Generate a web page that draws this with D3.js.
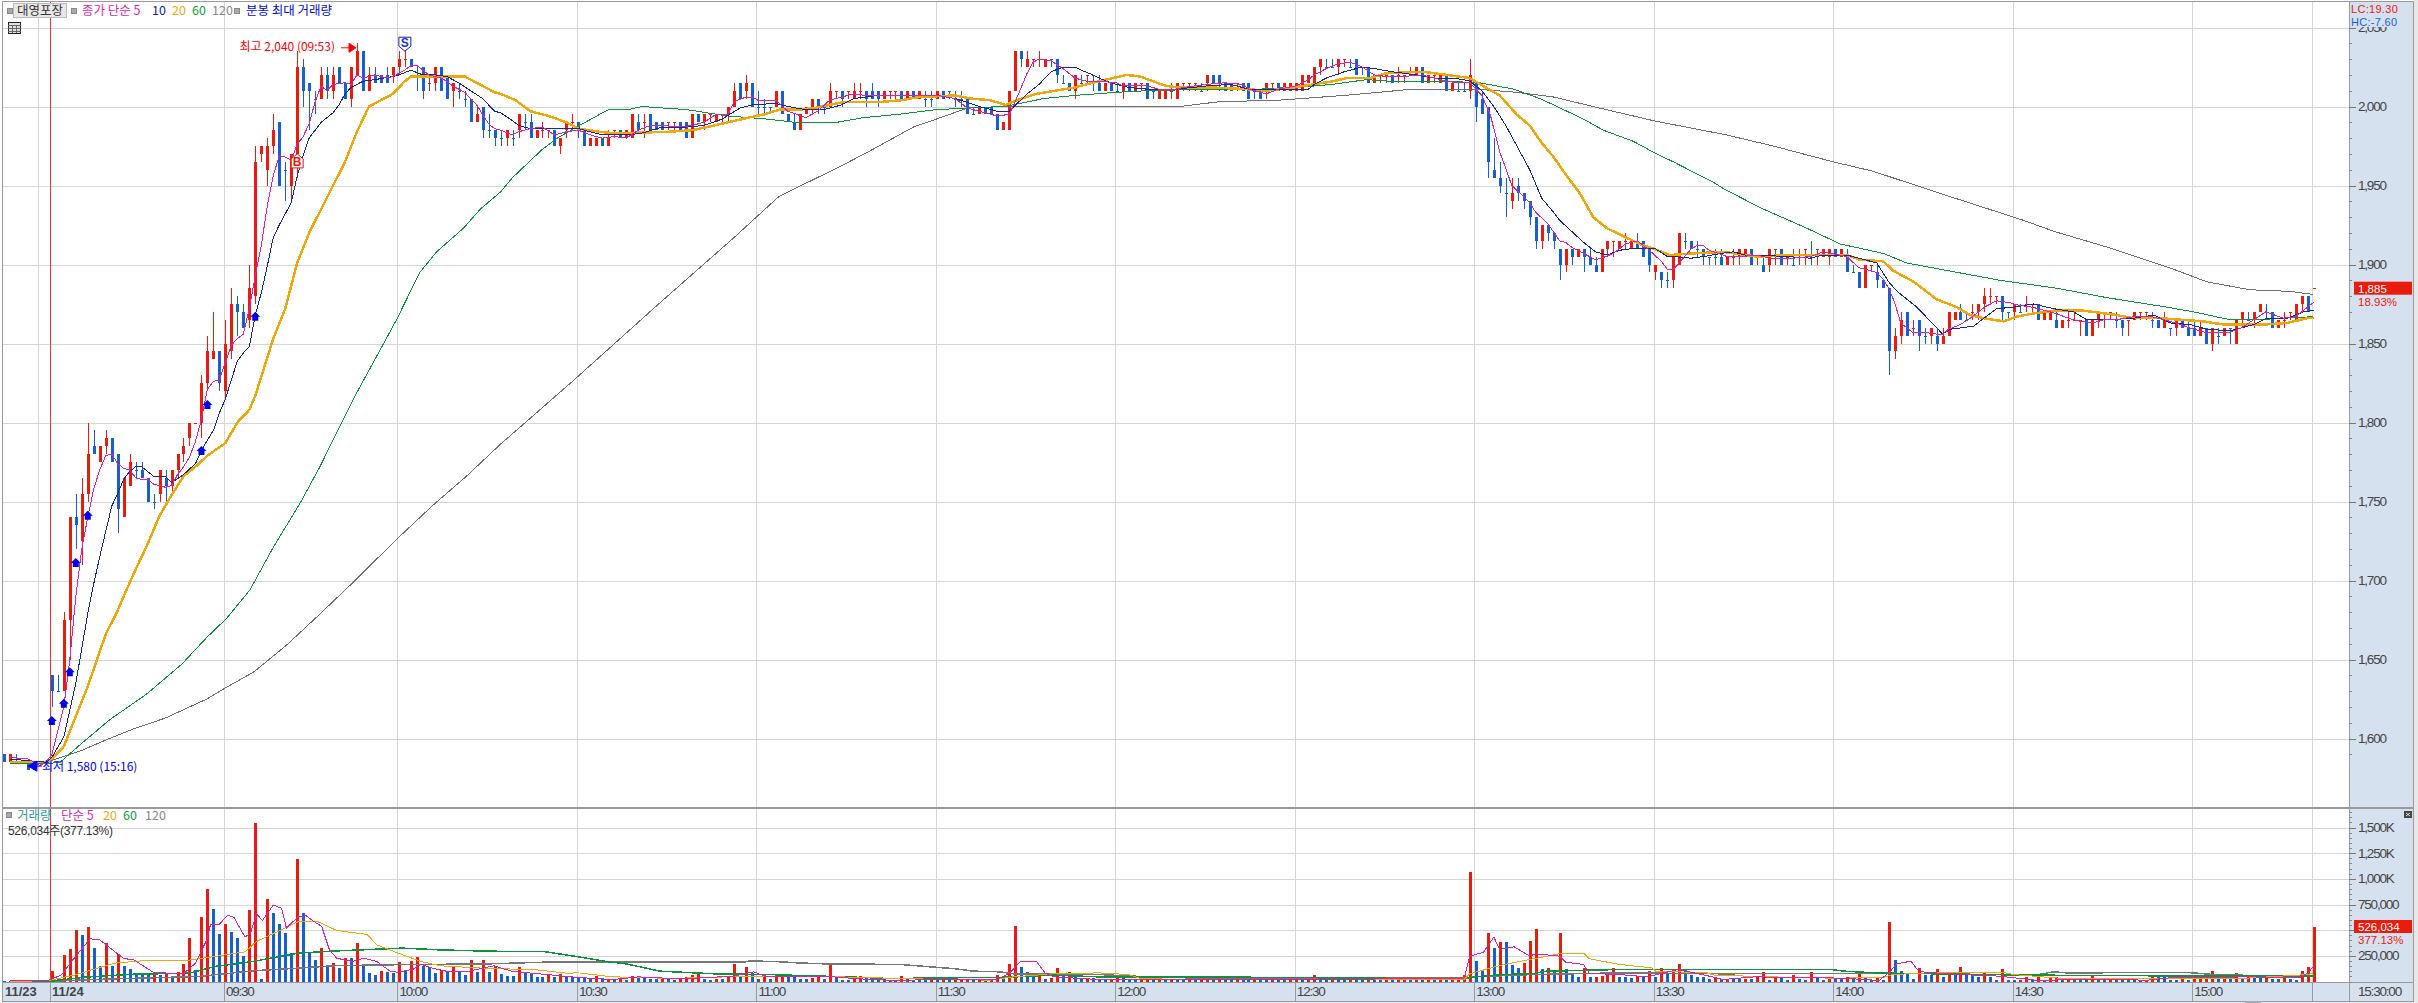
<!DOCTYPE html>
<meta charset="utf-8">
<script src="https://d3js.org/d3.v7.min.js"></script>
<style>
  html, body { margin: 0; padding: 0; background: #fff; overflow: hidden; }
  svg { display: block; }
  text { font-family: "Liberation Sans", "Noto Sans CJK KR", sans-serif; font-size: 12px; }
  .kr { font-family: "Noto Sans CJK KR", sans-serif; }
  .num { font-size: 13.5px; letter-spacing: -1.2px; }
</style>

<div id="my_dataviz"></div>

<script>
  // one candle per traded minute, index 0-7 are the end of 11/23
  const opens = [
    1590,1585,1585,1585,1585,1580,1585,1585,1640,1630,
    1630,1675,1740,1725,1755,1785,1775,1785,1790,1780,
    1740,1760,1770,1770,1765,1750,1755,1765,1760,1770,
    1780,1790,1800,1800,1825,1840,1845,1820,1845,1875,
    1870,1865,1880,1970,1960,1975,1990,1960,1950,1970,
    2025,2015,2005,2005,2020,2010,2025,2015,2005,2020,
    2035,2010,2020,2020,2020,2020,2025,2030,2030,2020,
    2025,2015,2015,2025,2020,2010,2010,2005,2005,1990,
    2000,1985,1985,1980,1980,1980,1985,1990,1990,1980,
    1985,1985,1985,1975,1985,1990,1990,1985,1975,1975,
    1980,1975,1985,1985,1980,1980,1990,1990,1995,1990,
    1990,1990,1990,1990,1990,1980,1995,1990,1995,1990,
    1995,1995,2000,2015,2010,2015,2000,2000,2000,2000,
    2010,1995,1990,1985,1995,2000,2005,2000,2000,2010,
    2010,2010,2005,2010,2010,2010,2010,2005,2010,2010,
    2010,2005,2010,2005,2005,2005,2005,2010,2010,2005,
    2005,2005,1995,1995,2000,2000,1995,1985,1985,2010,
    2035,2025,2030,2030,2025,2030,2030,2015,2015,2010,
    2015,2020,2020,2015,2010,2015,2010,2010,2015,2010,
    2015,2015,2010,2005,2005,2010,2005,2015,2015,2015,
    2010,2015,2020,2020,2015,2015,2015,2015,2015,2010,
    2010,2010,2015,2015,2010,2010,2010,2010,2015,2015,
    2025,2025,2025,2025,2030,2025,2030,2025,2025,2015,
    2020,2020,2020,2020,2020,2020,2020,2025,2015,2020,
    2015,2020,2010,2010,2010,2010,2015,2005,2000,1960,
    1955,1945,1940,1950,1945,1940,1930,1915,1925,1920,
    1910,1900,1910,1905,1910,1905,1900,1895,1910,1915,
    1910,1915,1910,1915,1915,1910,1895,1895,1890,1890,
    1900,1915,1915,1910,1910,1905,1905,1905,1900,1905,
    1905,1905,1910,1905,1900,1900,1910,1910,1905,1900,
    1905,1910,1905,1910,1905,1905,1910,1905,1905,1895,
    1895,1885,1900,1895,1890,1885,1845,1855,1870,1860,
    1865,1855,1855,1855,1850,1855,1865,1870,1865,1870,
    1870,1875,1880,1880,1880,1870,1870,1870,1875,1875,
    1875,1865,1865,1865,1860,1865,1865,1865,1865,1855,
    1865,1870,1870,1865,1865,1865,1865,1870,1870,1865,
    1865,1860,1860,1860,1865,1860,1860,1855,1860,1850,
    1855,1855,1860,1850,1865,1865,1865,1870,1870,1870,
    1860,1865,1870,1865,1875,1880,1885
  ];
  const closes = [
    1585,1590,1585,1585,1580,1585,1585,1585,1630,1630,
    1675,1740,1735,1755,1780,1780,1785,1790,1775,1745,
    1765,1775,1770,1765,1750,1750,1770,1760,1770,1780,
    1785,1800,1800,1825,1845,1845,1825,1850,1875,1870,
    1860,1885,1965,1975,1975,1985,1950,1960,1970,2025,
    2010,2010,2005,2020,2010,2020,2015,2005,2025,2035,
    2010,2020,2015,2015,2015,2025,2030,2030,2025,2020,
    2010,2015,2025,2010,2005,2015,2010,2005,1990,1995,
    1985,1985,1980,1980,1985,1980,1995,1990,1980,1985,
    1985,1985,1975,1980,1990,1990,1985,1975,1980,1980,
    1975,1980,1985,1980,1985,1995,1985,1990,1985,1985,
    1985,1990,1990,1985,1980,1995,1990,1995,1995,1995,
    1995,2000,2010,2005,2015,2000,2000,2000,2000,2010,
    1995,1990,1985,1995,2000,2005,2000,2000,2010,2010,
    2005,2010,2010,2010,2005,2005,2005,2010,2010,2010,
    2005,2010,2005,2010,2005,2005,2010,2005,2010,2005,
    2005,1995,1995,2000,1995,1995,1985,1990,2010,2035,
    2030,2030,2030,2030,2030,2030,2020,2015,2010,2020,
    2015,2020,2020,2010,2015,2010,2010,2015,2010,2015,
    2015,2005,2010,2010,2010,2010,2015,2015,2015,2015,
    2010,2020,2015,2015,2010,2010,2015,2010,2005,2010,
    2005,2015,2015,2010,2015,2015,2015,2020,2020,2025,
    2030,2025,2025,2030,2030,2025,2020,2025,2015,2020,
    2020,2020,2015,2020,2020,2020,2025,2015,2020,2020,
    2020,2010,2015,2010,2010,2020,2000,1995,1965,1955,
    1950,1945,1945,1945,1940,1930,1915,1925,1920,1915,
    1900,1910,1905,1910,1905,1900,1895,1910,1915,1915,
    1915,1915,1915,1910,1905,1900,1900,1890,1890,1905,
    1920,1915,1910,1910,1905,1905,1905,1900,1905,1905,
    1910,1910,1900,1905,1895,1910,1910,1900,1905,1900,
    1905,1910,1905,1910,1910,1910,1905,1910,1895,1895,
    1885,1900,1900,1890,1885,1845,1855,1865,1855,1860,
    1855,1855,1860,1850,1855,1870,1870,1865,1865,1870,
    1875,1880,1880,1880,1870,1870,1875,1870,1875,1875,
    1865,1870,1870,1860,1865,1865,1865,1865,1855,1865,
    1870,1870,1870,1865,1860,1865,1870,1870,1870,1865,
    1860,1865,1860,1865,1860,1855,1855,1860,1850,1860,
    1855,1860,1860,1865,1870,1865,1870,1875,1870,1860,
    1865,1865,1870,1875,1880,1870,1885
  ];
  const highs = [
    1590,1590,1590,1585,1585,1585,1585,1585,1640,1640,
    1680,1740,1755,1765,1800,1795,1785,1795,1790,1780,
    1765,1780,1775,1775,1765,1755,1770,1770,1770,1780,
    1790,1800,1800,1830,1855,1870,1845,1865,1885,1880,
    1875,1900,1975,1975,1980,1995,1990,1965,1970,2035,
    2030,2015,2010,2025,2025,2025,2025,2015,2025,2040,
    2035,2025,2025,2020,2025,2025,2035,2035,2030,2025,
    2025,2020,2025,2025,2020,2015,2015,2010,2005,2000,
    2000,1995,1985,1985,1985,1985,1995,1995,1995,1985,
    1990,1985,1985,1980,1990,1995,1990,1985,1980,1980,
    1980,1985,1985,1985,1985,1995,1995,1995,1995,1990,
    1990,1990,1990,1990,1990,1995,1995,1995,1995,1995,
    1995,2000,2015,2015,2020,2015,2010,2005,2000,2010,
    2010,1995,1995,1995,2000,2005,2005,2000,2015,2010,
    2010,2010,2015,2015,2010,2015,2010,2010,2010,2010,
    2010,2010,2010,2010,2010,2010,2010,2010,2010,2010,
    2010,2005,2000,2000,2000,2000,1995,1990,2010,2035,
    2035,2035,2030,2035,2030,2030,2030,2020,2015,2020,
    2020,2020,2020,2020,2015,2015,2015,2015,2015,2015,
    2015,2015,2010,2010,2010,2015,2015,2015,2015,2015,
    2015,2020,2020,2020,2015,2015,2015,2015,2015,2010,
    2010,2015,2015,2015,2015,2015,2015,2020,2020,2025,
    2030,2030,2030,2030,2030,2030,2030,2025,2025,2020,
    2020,2020,2020,2025,2020,2025,2025,2025,2020,2020,
    2020,2020,2015,2015,2015,2030,2015,2010,2000,1980,
    1965,1955,1955,1955,1945,1940,1930,1925,1925,1920,
    1910,1910,1910,1910,1910,1910,1905,1910,1915,1915,
    1915,1920,1915,1920,1915,1910,1900,1895,1895,1905,
    1920,1920,1915,1915,1910,1905,1910,1910,1905,1910,
    1910,1910,1910,1905,1905,1910,1910,1910,1905,1910,
    1910,1910,1915,1910,1910,1910,1910,1910,1910,1900,
    1895,1900,1900,1900,1890,1885,1860,1870,1870,1865,
    1865,1860,1860,1860,1860,1870,1870,1875,1870,1875,
    1875,1885,1885,1880,1880,1870,1875,1875,1880,1875,
    1875,1870,1870,1870,1865,1870,1870,1865,1865,1865,
    1870,1870,1870,1870,1865,1865,1870,1870,1870,1870,
    1865,1870,1860,1865,1865,1865,1865,1865,1860,1860,
    1860,1860,1860,1865,1870,1870,1870,1875,1875,1870,
    1865,1870,1870,1875,1880,1880,1885
  ];
  const lows = [
    1585,1585,1585,1585,1580,1580,1585,1585,1620,1630,
    1630,1650,1720,1710,1750,1780,1775,1780,1775,1730,
    1740,1760,1765,1765,1750,1745,1750,1750,1755,1765,
    1775,1785,1800,1790,1820,1840,1820,1815,1840,1855,
    1860,1860,1875,1965,1950,1970,1950,1940,1940,1955,
    2000,1985,1995,2005,2005,2005,2015,2005,2000,2020,
    2010,2010,2015,2015,2015,2015,2020,2025,2025,2010,
    2005,2010,2010,2010,2005,2000,2005,2000,1990,1990,
    1980,1980,1975,1975,1975,1975,1980,1985,1980,1980,
    1980,1980,1975,1970,1980,1985,1980,1975,1975,1975,
    1975,1975,1980,1980,1980,1980,1985,1980,1985,1985,
    1985,1985,1985,1985,1980,1980,1990,1985,1990,1990,
    1990,1990,2000,2005,2005,2000,1995,1995,1995,2000,
    1995,1990,1985,1985,1995,1995,1995,1995,2000,2005,
    2000,2005,2005,2005,2000,2005,2000,2005,2005,2005,
    2005,2005,2005,2005,2000,2000,2005,2005,2005,2000,
    2000,1995,1995,1995,1995,1995,1985,1985,1985,2010,
    2025,2025,2025,2025,2025,2025,2015,2015,2010,2005,
    2015,2015,2010,2010,2010,2010,2010,2005,2010,2010,
    2010,2005,2005,2005,2005,2005,2005,2010,2010,2010,
    2010,2010,2015,2010,2010,2010,2010,2010,2005,2005,
    2005,2005,2010,2010,2010,2010,2010,2010,2015,2015,
    2020,2025,2025,2020,2025,2025,2020,2020,2015,2015,
    2015,2015,2015,2015,2015,2020,2020,2015,2015,2015,
    2015,2010,2010,2010,2010,2005,1990,1995,1955,1955,
    1945,1930,1935,1940,1935,1925,1910,1910,1915,1910,
    1890,1895,1900,1905,1895,1900,1895,1895,1905,1905,
    1910,1910,1910,1910,1905,1895,1890,1885,1885,1885,
    1900,1910,1910,1905,1900,1900,1900,1900,1900,1900,
    1900,1905,1900,1900,1895,1895,1900,1900,1900,1900,
    1900,1900,1900,1900,1905,1900,1905,1905,1895,1895,
    1885,1885,1895,1885,1885,1830,1840,1850,1855,1855,
    1845,1850,1850,1845,1850,1855,1865,1865,1865,1865,
    1865,1870,1875,1875,1865,1865,1865,1870,1870,1870,
    1865,1865,1865,1860,1860,1860,1865,1855,1855,1855,
    1860,1860,1865,1860,1855,1855,1865,1865,1865,1860,
    1860,1860,1855,1855,1860,1855,1855,1855,1850,1845,
    1850,1855,1850,1850,1860,1865,1860,1870,1865,1860,
    1860,1860,1865,1865,1870,1870,1885
  ];
  // open == close candles that are drawn red, the rest are blue
  const redDoji = [32,67,71,90,91,95,102,107,111,112,118,120,139,141,143,148,149,172,173,181,190,195,197,198,199,
    206,212,224,230,231,233,234,235,239,269,271,289,293,296,298,300,301,303,312,319,329,332,333,338,339,345,346,347,
    351,352,355,357,358,381,382,386];

  // traded volume per candle, in thousands of shares
  const volumes = [
    6,3,3,3,6,6,16,3,104,23,
    260,318,503,455,532,328,153,373,153,270,
    153,123,84,71,65,81,68,84,39,94,
    172,425,114,630,903,708,464,562,484,425,
    250,698,1545,26,805,669,562,474,279,1195,
    669,289,211,328,162,182,133,231,231,377,
    153,84,65,104,94,81,192,104,201,240,
    153,143,84,114,104,143,94,65,211,94,
    211,94,153,75,55,55,143,81,75,45,
    45,65,45,75,45,45,45,45,20,52,
    20,26,10,26,16,58,42,32,20,20,
    26,26,13,20,39,68,84,20,10,23,
    20,58,166,52,146,84,20,68,29,45,
    58,58,45,23,20,32,45,20,156,42,
    16,16,32,58,32,32,32,32,10,10,
    52,20,16,13,10,20,13,16,10,13,
    16,20,10,13,13,26,68,20,166,536,
    146,97,45,58,26,32,127,58,97,52,
    20,32,32,20,13,26,42,42,16,13,
    20,26,10,16,13,26,16,13,16,10,
    20,36,13,42,16,13,20,13,10,16,
    13,10,16,13,10,13,26,16,30,68,
    48,20,48,29,29,48,48,20,26,26,
    13,16,10,13,20,13,16,10,26,13,
    16,13,20,26,68,1071,195,110,468,331,
    380,380,159,136,179,399,507,117,136,107,
    477,117,68,48,136,39,48,50,65,127,
    48,45,30,52,52,100,40,127,75,91,
    166,110,68,39,39,20,36,23,26,26,
    23,26,23,45,97,16,42,42,16,68,
    29,16,97,32,19,42,26,26,45,26,
    97,45,19,32,19,575,214,107,75,29,
    136,68,68,117,39,62,62,140,68,68,
    45,84,45,19,117,19,16,19,39,10,
    39,10,30,42,19,32,26,26,26,68,
    26,16,32,26,16,16,16,10,16,52,
    39,39,19,19,26,19,26,42,84,107,
    26,45,36,78,26,45,45,36,39,26,
    26,39,26,19,107,146,526.034
  ];

  // moving averages as [candle index, price]
  const ma5 = [[1,1588],[4,1587],[6,1583],[7,1585],[8,1590],[9,1605],[10,1620],[11,1650],[12,1690],[13,1720],[14,1740],[15,1758],[16,1770],[17,1779],[18,1780],[19,1774],[20,1771],[21,1770],[22,1765],[23,1764],[24,1764],[25,1761],[26,1760],[27,1759],[28,1760],[29,1767],[30,1772],[31,1778],[32,1788],[33,1802],[34,1821],[35,1826],[36,1827],[37,1838],[38,1849],[39,1853],[40,1856],[41,1872],[42,1893],[43,1912],[44,1937],[45,1956],[46,1969],[47,1968],[48,1966],[49,1976],[50,1981],[51,1989],[52,2003],[53,2013],[54,2010],[55,2014],[57,2015],[58,2014],[59,2020],[60,2018],[61,2019],[62,2020],[64,2018],[65,2019],[66,2021],[67,2023],[68,2026],[69,2026],[70,2023],[71,2020],[72,2019],[73,2018],[74,2016],[75,2013],[77,2009],[78,2005],[79,2001],[80,1995],[81,1989],[82,1986],[83,1985],[85,1982],[86,1984],[88,1986],[90,1987],[92,1982],[94,1984],[96,1985],[98,1982],[100,1980],[102,1981],[104,1980],[106,1985],[108,1988],[110,1988],[113,1987],[115,1988],[117,1990],[119,1995],[121,1995],[122,2003],[124,2006],[125,2006],[126,2004],[129,2004],[131,1997],[134,1993],[136,1997],[138,2004],[139,2005],[142,2008],[144,2007],[147,2007],[153,2007],[156,2007],[159,2005],[161,1999],[164,1996],[166,1994],[168,1995],[169,2003],[171,2021],[172,2028],[173,2030],[175,2029],[177,2024],[179,2018],[181,2016],[183,2016],[186,2015],[187,2013],[191,2013],[193,2011],[196,2011],[197,2012],[201,2014],[204,2015],[207,2014],[208,2011],[209,2010],[211,2008],[213,2011],[216,2013],[218,2017],[219,2020],[221,2024],[223,2027],[225,2028],[227,2025],[229,2020],[231,2019],[234,2019],[237,2020],[239,2018],[241,2016],[243,2015],[245,2015],[246,2011],[247,2007],[248.4,1995],[249,1986],[250,1971],[251,1961],[252,1950],[254,1943],[255,1939],[256,1933],[258,1926],[260,1915],[261,1914],[262,1911],[264,1907],[266,1903],[267,1904],[269,1907],[271,1913],[273,1915],[275,1909],[277,1902],[278,1897],[279,1897],[280,1901],[282,1910],[283,1912],[284,1912],[285,1909],[288,1905],[290,1905],[293,1906],[295,1904],[299,1904],[302,1905],[304,1908],[308,1905],[310,1898],[312,1896],[313,1895],[314,1891],[315,1885],[316,1876],[317,1863],[319,1857],[321,1857],[323,1856],[324,1856],[325,1859],[327,1862],[329,1867],[331,1873],[333,1877],[335,1876],[337,1874],[339,1873],[341,1871],[343,1869],[345,1866],[347,1864],[349,1863],[351,1865],[353,1865],[356,1867],[359,1867],[361,1865],[363,1863],[366,1859],[368,1857],[372,1857],[374,1860],[376,1865],[378,1870],[381,1866],[383,1867],[385,1873],[386,1876]];
  const ma10 = [[1,1587],[7,1585],[8,1588],[10,1601],[11,1618],[12,1635],[13,1657],[14,1679],[15,1698],[16,1715],[17,1731],[18,1747],[19,1755],[20,1764],[21,1769],[22,1772],[23,1772],[24,1769],[25,1766],[27,1766],[28,1762],[30,1767],[32,1774],[33,1782],[34,1789],[35,1795],[36,1806],[37,1815],[38,1827],[39,1839],[40,1844],[41,1848],[42,1868],[43,1882],[44,1899],[45,1917],[46,1925],[48,1939],[49,1956],[50,1969],[51,1980],[53,1990],[55,1996],[56,2001],[57,2008],[58,2012],[60,2016],[62,2017],[65,2019],[66,2020],[68,2023],[70,2020],[72,2020],[74,2019],[76,2015],[78,2010],[80,2005],[82,1997],[83,1996],[85,1991],[86,1988],[88,1986],[92,1986],[96,1986],[98,1984],[100,1982],[104,1982],[106.5,1983],[110,1987],[114,1987],[117,1988],[120,1992],[123,1999],[125,2001],[129,2002],[131,2000],[134,1998],[137,1998],[140,2001],[142,2005],[146,2007],[156,2007],[159,2005],[163,2000],[166,1997],[168,1997],[171,2008],[173,2014],[175,2022],[177,2025],[179,2025],[180,2023],[182,2020],[183,2018],[185,2015],[188,2012],[191,2011],[196,2011],[201,2013],[205,2014],[208,2011],[211,2011],[218,2011],[219,2014],[221,2018],[224,2022],[227,2025],[229,2024],[232,2022],[236,2020],[239,2018],[242,2018],[244,2017],[245,2016],[247,2010],[249,2000],[251,1988],[253,1974],[255,1960],[257,1942],[259,1933],[260,1928],[262,1921],[264,1914],[266,1908],[268,1906],[270,1909],[272,1910],[274,1910],[276,1910],[278,1905],[279,1905],[282,1904],[284,1905],[287,1907],[289,1908],[291,1906],[293,1906],[298,1905],[302,1904],[304,1906],[308,1906],[310,1904],[313,1901],[315,1889],[316.4,1883],[319.7,1873],[323,1860],[324,1856],[325.3,1859],[329.2,1861],[333,1872],[335.9,1873],[339.2,1875],[342.6,1872],[345.9,1870],[348.1,1865],[351.5,1865],[355.9,1866],[359.3,1868],[362,1863],[365.4,1862],[368.2,1859],[372.1,1858],[376,1862],[378.2,1866],[381.6,1866],[384.3,1870],[386,1871]];
  const ma20 = [[1,1585],[7,1585],[8,1587],[10,1595],[12,1614],[14,1633],[17,1666],[19,1681],[20,1690],[22,1707],[24,1723],[26,1741],[28,1754],[29,1760],[30,1766],[32,1772],[34,1779],[37,1787],[39,1800],[41,1808],[42,1817],[45,1853],[47,1872],[49,1901],[51,1920],[53,1935],[55,1950],[57,1965],[59,1984],[61,2000],[63,2004],[65,2008],[67,2016],[68,2019],[71,2019],[77,2019],[79,2015],[82,2009],[83,2008],[85.5,2004],[88,1997],[91,1994],[94,1990],[96,1986],[99.5,1984],[102,1983],[111,1984],[115,1985],[117.5,1987],[121,1990],[124.5,1993],[127,1995],[129.6,1998],[132.8,1998],[135.4,1999],[138,2001],[140.5,2003],[147,2003],[150,2004],[153,2006],[159,2007],[161.6,2005],[164.8,2004],[167.4,2001],[168.6,2003],[172.5,2008],[175.7,2010],[178.9,2012],[183,2016],[185.4,2018],[187.6,2020],[189.9,2019],[192,2016],[194.3,2013],[196.5,2012],[202,2012],[207.7,2011],[211,2010],[215.5,2012],[218.8,2014],[222.2,2016],[224.4,2018],[228.3,2018],[231,2021],[237.2,2022],[241.1,2020],[245,2018],[247.2,2013],[250,2007],[252.8,1995],[255,1988],[257,1977],[259,1968],[261.2,1956],[263.4,1945],[265.6,1930],[267.9,1923],[270.6,1918],[273.4,1913],[275.7,1910],[278.4,1906],[282.3,1907],[287.4,1908],[292.9,1905],[298.5,1906],[304.1,1906],[308,1906],[310.2,1903],[314.1,1902],[315.8,1896],[319.2,1889],[323,1878],[326.4,1873],[328.6,1868],[330.9,1866],[334.2,1864],[336.4,1867],[339.2,1869],[343.1,1871],[347,1871],[349.2,1870],[353.1,1868],[355.9,1866],[360.4,1866],[367.6,1864],[371,1862],[377.7,1862],[381.6,1863],[384.9,1866],[386,1866]];
  const ma60 = [[1,1584],[7,1584],[9.4,1585],[12.7,1596],[17.7,1612],[23.8,1628],[29.7,1647],[33.9,1664],[37.2,1676],[41.1,1694],[45,1721],[49.5,1749],[52.8,1772],[58.4,1815],[62.3,1842],[65.6,1865],[69.5,1895],[72.3,1908],[76.8,1923],[79.6,1935],[83,1946],[85,1955],[90,1973],[92.5,1980],[95.7,1987],[101,1998],[104.3,1998],[106.6,2000],[110.4,1999],[114.2,1998],[117.5,1996],[121,1994],[127.7,1992],[132.2,1990],[139.2,1990],[143.7,1993],[149.4,1995],[155.8,1998],[161,1999],[166.7,2000],[168.6,2001],[173.7,2005],[178.9,2007],[186,2009],[191,2010],[202,2011],[210,2011],[219,2013],[222,2014],[227.7,2017],[231.6,2016],[241,2016],[246.7,2015],[252.3,2011],[256.7,2005],[259,2001],[264,1992],[267.3,1985],[272.3,1978],[276.2,1970],[279,1965],[285.7,1952],[287.4,1948],[293.5,1936],[301.3,1923],[306.9,1913],[314.1,1907],[318,1901],[323.6,1897],[333.6,1890],[343.1,1885],[351.5,1879],[361.5,1873],[366,1870],[372.1,1865],[376.5,1865],[381,1866],[386,1867]];
  const ma120 = [[1,1585],[7,1585],[12.7,1592],[17,1599],[21.6,1606],[27,1613],[33.9,1625],[37,1632],[41.7,1642],[47.2,1659],[52.3,1677],[58.4,1699],[65.6,1726],[71.8,1748],[77.3,1766],[82.9,1786],[95,1826],[110,1877],[122,1917],[129.5,1943],[135.4,1954],[139.2,1961],[144.3,1971],[152,1987],[155.8,1992],[161,1999],[166.7,2000],[180,2000],[188.8,2000],[196.6,2000],[203,2003],[213,2004],[224,2007],[235.5,2011],[241,2011],[246,2011],[252.8,2009],[259,2006],[266.7,1999],[275.7,1991],[287.9,1982],[295.7,1975],[305.7,1965],[312.4,1959],[323.6,1945],[337.5,1928],[342.6,1921],[351.5,1911],[362.6,1897],[368.2,1889],[375.4,1884],[382.1,1883],[386,1881]];

  // volume moving averages, [candle index, thousands of shares]
  const vol5 = [[1,6],[7,6],[8,23],[9.6,65],[11.5,211],[14.4,416],[16,406],[18.5,292],[20,224],[21.7,211],[25,88],[30,75],[32,179],[33.9,406],[34.5,552],[36,558],[37.4,646],[38.4,627],[40.3,432],[41.2,471],[42.2,659],[43.2,594],[45,744],[46.4,714],[47.2,520],[49.2,633],[50.5,640],[51.8,584],[53.1,536],[54.4,308],[55.6,227],[58.2,195],[60.1,227],[62.3,195],[64.6,97],[65.9,91],[68.4,120],[69.7,169],[71.6,130],[74.2,97],[77.4,97],[81.9,153],[85,97],[90.2,71],[94,49],[96,39],[101.8,19],[106,45],[113,26],[122,52],[125.3,94],[127.5,45],[138.6,45],[143,26],[147.5,13],[166,19],[168.1,84],[169.8,192],[172.6,192],[174,84],[175.4,45],[183,19],[244,26],[245,247],[247.3,286],[249,432],[250,312],[252.4,338],[255,247],[256,270],[260,247],[261,188],[264,166],[265,78],[270,68],[274.6,45],[279.8,117],[285,52],[287.3,19],[292.5,45],[301.5,39],[307.5,32],[313.4,10],[315,84],[316.4,172],[318.7,198],[319.8,117],[320.9,91],[326.9,68],[333.6,52],[336.6,32],[339.6,13],[352.2,19],[358.2,13],[362,36],[374.6,45],[383.7,39],[385.1,84],[386,149]];
  const vol20 = [[1,3],[7,6],[8,16],[12,65],[14.7,114],[18.5,179],[23,201],[31,208],[35.2,244],[40.3,289],[42.2,390],[45.4,477],[49.2,584],[52.4,584],[55.6,497],[60.7,458],[62.3,357],[65.9,276],[69.7,195],[72.9,153],[80,130],[88.9,114],[94,81],[96,84],[100.7,52],[105.2,36],[113,32],[120.8,45],[132,52],[139.7,45],[152,26],[164.8,13],[168.7,45],[175.4,75],[183,84],[188,68],[190,29],[197.7,19],[244,19],[245,75],[250,156],[255,214],[260,270],[264,276],[265,221],[270,166],[275.4,133],[276.2,94],[284.3,91],[285.8,62],[295.5,45],[306,32],[314.2,39],[315.7,68],[323.9,91],[334,91],[335.8,68],[344.8,26],[374.6,32],[385.1,68],[386,84]];
  const vol60 = [[1,3],[8,3],[13.4,42],[21.7,71],[31,81],[35.2,146],[41.6,195],[49.2,276],[54.4,295],[66.5,325],[72.9,308],[81.2,295],[90.2,292],[96,240],[101,192],[104,172],[109.6,101],[118.6,75],[127.5,68],[141,45],[148,29],[168,42],[175.4,62],[183,45],[207,42],[244,26],[246,45],[250,65],[255.6,78],[257.8,100],[270,117],[305.3,117],[307.5,101],[312.7,84],[315,81],[338.8,62],[370.9,52],[386,52]];
  const vol120 = [[1,3],[8,3],[18.5,26],[32.6,49],[41.6,104],[49.2,130],[55,153],[63.3,162],[81.2,172],[90.2,188],[96,192],[124,192],[124.7,201],[129.7,192],[132.5,182],[137,172],[149.8,166],[154.8,143],[159.2,123],[162,101],[166.5,94],[168.7,75],[183,68],[188.7,52],[197.7,36],[244,32],[245.7,45],[255.6,68],[270,84],[287.3,75],[315,81],[339.6,62],[342.5,94],[344.8,84],[364.9,88],[370,65],[386,49]];

  // axis values
  const priceTicks = [1600,1650,1700,1750,1800,1850,1900,1950,2000,2050];
  const volumeTicks = [250,500,750,1000,1250,1500];
  const timeTickIdx = [37,66,96,126,156,186,216,246,276,306,336,366];
  const timeTickLabels = ["09:30","10:00","10:30","11:00","11:30","12:00","12:30","13:00","13:30","14:00","14:30","15:00"];

  // buy signal arrows and B / S flags
  const signalIdx = [8,10,11,12,14,33,34,42];
  const signalPrice = [1611,1622,1642,1711,1741,1782,1811,1867];

  const red = "#e91b0c", blue = "#1560cf", panel = "#d6e1ef", frame = "#9a9a9a", gridCol = "#d6d6d6";

  const svg = d3.select("#my_dataviz").append("svg").attr("width", 2418).attr("height", 1003);

  const x = d3.scaleLinear().domain([0, 386]).range([4, 2313.5]);
  const y = d3.scaleLinear().domain([1600, 2050]).range([738.5, 27.5]);
  const yVol = d3.scaleLinear().domain([0, 1500]).range([981.5, 827.5]);
  const gridX = i => Math.round(x(i) - 1.5) + 0.5;

  // panels
  svg.append("rect").attr("x", 2414).attr("width", 4).attr("height", 1003).attr("fill", "#e8e8e8");
  svg.append("rect").attr("x", 0).attr("y", 1002).attr("width", 2418).attr("height", 1).attr("fill", "#e8e8e8");
  svg.append("rect").attr("x", 2349).attr("y", 1).attr("width", 65).attr("height", 1001).attr("fill", panel);
  svg.append("rect").attr("x", 3).attr("y", 982).attr("width", 2346).attr("height", 20).attr("fill", panel);

  // grid
  const grid = svg.append("g").attr("stroke", gridCol).attr("shape-rendering", "crispEdges");
  grid.selectAll(".hp").data(priceTicks).join("line")
    .attr("x1", 3).attr("x2", 2349).attr("y1", d => Math.round(y(d)) + 0.5).attr("y2", d => Math.round(y(d)) + 0.5);
  grid.selectAll(".hv").data(volumeTicks).join("line")
    .attr("x1", 3).attr("x2", 2349).attr("y1", d => Math.round(yVol(d)) + 0.5).attr("y2", d => Math.round(yVol(d)) + 0.5);
  grid.selectAll(".vt").data([6, ...timeTickIdx, 386]).join("line")
    .attr("x1", d => gridX(d)).attr("x2", d => gridX(d)).attr("y1", 2).attr("y2", 982);

  // red line on the day change
  svg.append("line").attr("x1", gridX(8)).attr("x2", gridX(8)).attr("y1", 2).attr("y2", 982)
    .attr("stroke", "#e8342a").attr("shape-rendering", "crispEdges");

  // candles
  const candles = d3.range(opens.length);
  const candleColor = i => closes[i] > opens[i] || (closes[i] === opens[i] && redDoji.includes(i)) ? red : blue;
  const candleG = svg.append("g").attr("shape-rendering", "crispEdges");
  candleG.selectAll(".wick").data(candles).join("rect")
    .attr("x", i => Math.round(x(i)))
    .attr("y", i => Math.round(y(highs[i])))
    .attr("width", 1)
    .attr("height", i => Math.max(1, Math.round(y(lows[i])) - Math.round(y(highs[i]))))
    .attr("fill", candleColor);
  candleG.selectAll(".body").data(candles).join("rect")
    .attr("x", i => Math.round(x(i)) - 1)
    .attr("y", i => Math.round(y(Math.max(opens[i], closes[i]))))
    .attr("width", 3)
    .attr("height", i => Math.max(1, Math.round(y(Math.min(opens[i], closes[i]))) - Math.round(y(Math.max(opens[i], closes[i])))))
    .attr("fill", candleColor);

  // price moving averages
  const priceLine = d3.line().x(d => x(d[0])).y(d => y(d[1]));
  const priceMas = [[ma120, "#6f6f6f", 1], [ma60, "#0a9638", 1], [ma20, "#f0a808", 2.5], [ma10, "#10279f", 1], [ma5, "#e01fb0", 1]];
  svg.append("g").attr("shape-rendering", "crispEdges").selectAll("path").data(priceMas).join("path")
    .attr("d", d => priceLine(d[0]))
    .attr("fill", "none")
    .attr("stroke", d => d[1])
    .attr("stroke-width", d => d[2]);

  // volume bars, red when the volume grew on the previous candle
  svg.append("g").attr("shape-rendering", "crispEdges").selectAll("rect").data(candles).join("rect")
    .attr("x", i => Math.round(x(i)) - 1)
    .attr("y", i => Math.round(yVol(volumes[i])))
    .attr("width", 3)
    .attr("height", i => 982 - Math.round(yVol(volumes[i])))
    .attr("fill", i => i > 0 && volumes[i] > volumes[i - 1] ? red : blue);

  const volLine = d3.line().x(d => x(d[0])).y(d => yVol(d[1]));
  const volMas = [[vol120, "#777", 1.5], [vol60, "#0a9638", 1.5], [vol20, "#f0a808", 1], [vol5, "#e01fb0", 1]];
  svg.append("g").attr("shape-rendering", "crispEdges").selectAll("path").data(volMas).join("path")
    .attr("d", d => volLine(d[0]))
    .attr("fill", "none")
    .attr("stroke", d => d[1])
    .attr("stroke-width", d => d[2]);

  // buy arrows
  svg.append("g").selectAll("path").data(signalIdx).join("path")
    .attr("transform", (d, k) => `translate(${x(d)}, ${y(signalPrice[k])})`)
    .attr("d", "M0,-5L5,0L3,0L3,4L-3,4L-3,0L-5,0Z")
    .attr("fill", "#0000f0");

  // B and S flags
  const bFlag = svg.append("g").attr("transform", `translate(${x(49)}, ${y(1970)})`);
  bFlag.append("path").attr("d", "M0,0L6,5L6,14L-6,14L-6,5Z").attr("fill", "#fff").attr("stroke", red);
  bFlag.append("text").attr("y", 12).attr("text-anchor", "middle").attr("font-weight", "bold").attr("fill", red).text("B");
  const sFlag = svg.append("g").attr("transform", `translate(${x(67)}, ${y(2035)})`);
  sFlag.append("path").attr("d", "M0,0L6,-5L6,-14L-6,-14L-6,-5Z").attr("fill", "#fff").attr("stroke", "#1020a0");
  sFlag.append("text").attr("y", -4).attr("text-anchor", "middle").attr("font-weight", "bold").attr("fill", "#1a30e0").text("S");

  // high and low notes
  svg.append("text").attr("class", "kr").attr("x", x(59) - 22).attr("y", y(2040) + 8).attr("text-anchor", "end")
    .attr("fill", "#f00").style("font-size", "12px").text("최고 2,040 (09:53)");
  svg.append("path").attr("d", `M${x(59) - 16},${y(2040) + 4.5}H${x(59) - 4}M${x(59) - 8},${y(2040)}L${x(59) - 1},${y(2040) + 4.5}L${x(59) - 8},${y(2040) + 9}Z`)
    .attr("stroke", "#f00").attr("fill", "#f00");
  svg.append("text").attr("class", "kr").attr("x", x(5) + 8).attr("y", y(1580) + 1).attr("fill", "#00f")
    .style("font-size", "12px").text("최저 1,580 (15:16)");
  svg.append("path").attr("d", `M${x(5) + 8},${y(1580) - 4}H${x(5) - 2}M${x(5) + 3},${y(1580) - 9}L${x(5) - 6},${y(1580) - 4}L${x(5) + 3},${y(1580) + 1}Z`)
    .attr("stroke", "#00f").attr("fill", "#00f");

  // frame
  const frameG = svg.append("g").attr("stroke", frame).attr("shape-rendering", "crispEdges").attr("fill", "none");
  frameG.append("rect").attr("x", 2.5).attr("y", 1.5).attr("width", 2411).attr("height", 1000);
  frameG.append("line").attr("x1", 2.5).attr("x2", 2414).attr("y1", 807.5).attr("y2", 807.5).attr("stroke-width", 2);
  frameG.append("line").attr("x1", 2349.5).attr("x2", 2349.5).attr("y1", 1).attr("y2", 1002);
  frameG.append("line").attr("x1", 2.5).attr("x2", 2414).attr("y1", 982.5).attr("y2", 982.5);

  // right axes
  const tickCol = "#444";
  const styleAxis = g => {
    g.select(".domain").remove();
    g.selectAll("line").attr("stroke", "#777").attr("shape-rendering", "crispEdges");
    g.selectAll("text").attr("class", "num").attr("fill", tickCol).attr("x", 9).attr("dy", "0.3em");
  };
  svg.append("g").attr("transform", "translate(2349,0)")
    .call(d3.axisRight(y).tickValues(d3.range(1590, 2051, 10)).tickSize(3).tickFormat(""))
    .call(g => { g.select(".domain").remove(); g.selectAll("line").attr("stroke", "#888").attr("shape-rendering", "crispEdges"); });
  svg.append("g").attr("transform", "translate(2349,0)")
    .call(d3.axisRight(y).tickValues(priceTicks).tickSize(7).tickFormat(d3.format(",")))
    .call(styleAxis);
  svg.append("g").attr("transform", "translate(2349,0)")
    .call(d3.axisRight(yVol).tickValues(d3.range(0, 1651, 50)).tickSize(3).tickFormat(""))
    .call(g => { g.select(".domain").remove(); g.selectAll("line").attr("stroke", "#888").attr("shape-rendering", "crispEdges"); });
  svg.append("g").attr("transform", "translate(2349,0)")
    .call(d3.axisRight(yVol).tickValues(volumeTicks).tickSize(7)
      .tickFormat(d => d === 500 ? "" : d >= 1000 ? d3.format(",")(d) + "K" : d3.format(",")(d * 1000)))
    .call(styleAxis);

  // LC HC labels sit on top of the 2,050 tick
  svg.append("rect").attr("x", 2350).attr("y", 2).attr("width", 63).attr("height", 25).attr("fill", panel);
  svg.append("text").attr("x", 2351).attr("y", 13).attr("fill", red).style("font-size", "11px").style("letter-spacing", "0.3px").text("LC:19.30");
  svg.append("text").attr("x", 2351).attr("y", 26).attr("fill", blue).style("font-size", "11px").style("letter-spacing", "0.3px").text("HC:-7.60");

  // current value boxes
  const lastBox = (yPos, label, pct) => {
    svg.append("rect").attr("x", 2354).attr("y", yPos - 7).attr("width", 58).attr("height", 13).attr("fill", red);
    svg.append("text").attr("x", 2358).attr("y", yPos + 4).attr("fill", "#fff").style("font-size", "11.5px").text(label);
    svg.append("text").attr("x", 2358).attr("y", yPos + 17).attr("fill", red).style("font-size", "11.5px").text(pct);
  };
  lastBox(y(closes[386]) + 0.5, "1,885", "18.93%");
  lastBox(yVol(volumes[386]) - 0.5, "526,034", "377.13%");

  // time axis
  svg.append("g").attr("transform", "translate(-1.5,982)")
    .call(d3.axisBottom(x).tickValues(timeTickIdx).tickSize(20).tickPadding(0).tickFormat((d, k) => timeTickLabels[k]))
    .call(g => {
      g.select(".domain").remove();
      g.selectAll("line").attr("stroke", frame).attr("shape-rendering", "crispEdges");
      g.selectAll("text").attr("class", "num").attr("text-anchor", "start").attr("x", 1.5).attr("y", 14).attr("dy", 0)
        .attr("fill", tickCol);
    });
  svg.append("line").attr("x1", gridX(8)).attr("x2", gridX(8)).attr("y1", 982).attr("y2", 1002).attr("stroke", frame).attr("shape-rendering", "crispEdges");
  svg.append("line").attr("x1", gridX(386)).attr("x2", gridX(386)).attr("y1", 982).attr("y2", 1002).attr("stroke", frame).attr("shape-rendering", "crispEdges");
  svg.append("text").attr("x", 5).attr("y", 996).attr("fill", tickCol).attr("font-weight", "bold").style("font-size", "13px").text("11/23");
  svg.append("text").attr("x", 52).attr("y", 996).attr("fill", tickCol).attr("font-weight", "bold").style("font-size", "13px").text("11/24");
  svg.append("text").attr("class", "num").attr("x", 2358).attr("y", 996).attr("fill", tickCol).text("15:30:00");

  // top legend
  const icon = (ix, iy) => svg.append("rect").attr("x", ix).attr("y", iy).attr("width", 5).attr("height", 5)
    .attr("fill", "#aaa").attr("stroke", "#888").attr("shape-rendering", "crispEdges");
  const legend = (lx, ly, txt, col) => svg.append("text").attr("class", "kr").attr("x", lx).attr("y", ly)
    .attr("fill", col).style("font-size", "12.5px").text(txt);
  icon(7, 8); icon(71, 8); icon(234, 8);
  svg.append("rect").attr("x", 13.5).attr("y", 3.5).attr("width", 53).attr("height", 14).attr("fill", "#e8e8e8").attr("stroke", "#bbb").attr("shape-rendering", "crispEdges");
  legend(17, 15, "대영포장", "#333");
  legend(82, 15, "종가 단순 5", "#e01fb0");
  legend(152, 15, "10", "#1020c0");
  legend(172, 15, "20", "#f0a808");
  legend(192, 15, "60", "#0f9d3f");
  legend(212, 15, "120", "#888");
  legend(246, 15, "분봉 최대 거래량", "#0010d0");

  // little table icon
  const tbl = svg.append("g").attr("fill", "none").attr("stroke", "#222").attr("shape-rendering", "crispEdges");
  tbl.append("rect").attr("x", 8.5).attr("y", 22.5).attr("width", 12).attr("height", 11).attr("fill", "#e0e0e0");
  tbl.append("path").attr("d", "M8,25.5H21M8,28.5H21M8,31.5H21M12.5,25V33M16.5,25V33").attr("stroke", "#666");

  // volume legend
  icon(6, 812);
  legend(17, 820, "거래량", "#2a9a9a");
  legend(61, 820, "단순 5", "#e01fb0");
  legend(103, 820, "20", "#f0a808");
  legend(123, 820, "60", "#0f9d3f");
  legend(145, 820, "120", "#888");
  svg.append("text").attr("x", 8).attr("y", 835).attr("fill", "#333").style("letter-spacing", "-0.3px").text("526,034주(377.13%)");

  // close button and scroll tab
  svg.append("rect").attr("x", 2404).attr("y", 811).attr("width", 8).attr("height", 7).attr("fill", "#444");
  svg.append("path").attr("d", "M2406,813L2410,816M2410,813L2406,816").attr("stroke", "#ddd");
  svg.append("rect").attr("x", 2245).attr("y", 1001).attr("width", 16).attr("height", 2).attr("fill", "#aaa");
</script>
